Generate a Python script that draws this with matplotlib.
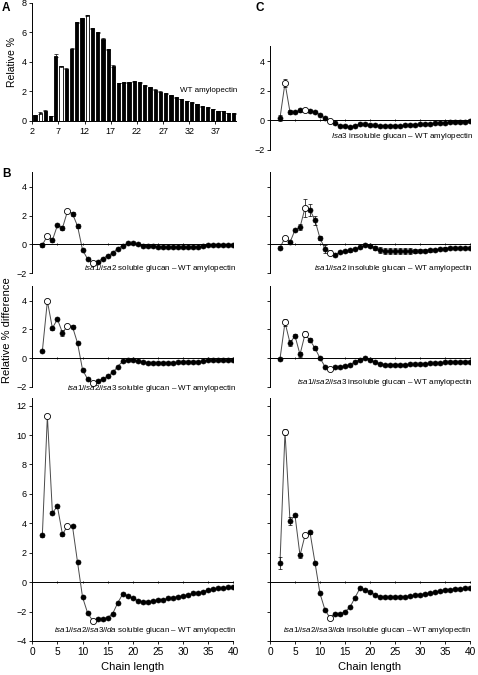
import numpy as np
import matplotlib.pyplot as plt

plt.rcParams['font.family'] = ['Liberation Sans', 'DejaVu Sans']
plt.rcParams['mathtext.fontset'] = 'custom'
plt.rcParams['mathtext.rm'] = 'Liberation Sans'
plt.rcParams['mathtext.it'] = 'Liberation Sans:italic'

W, H = 478, 675

# chain lengths (DP 2..40)
dp = np.arange(2, 41)
open_dp = [3, 7, 12]

# A: WT amylopectin, relative %
wt = [0.38, 0.54, 0.70, 0.34, 4.41, 3.69, 3.54, 4.89, 6.67, 6.94, 7.14, 6.28, 5.99,
      5.54, 4.84, 3.72, 2.57, 2.63, 2.63, 2.70, 2.63, 2.43, 2.27, 2.12, 1.98, 1.87,
      1.73, 1.60, 1.49, 1.35, 1.26, 1.15, 1.01, 0.92, 0.81, 0.68, 0.68, 0.54, 0.52]
wt_err = [0.03, 0.05, 0.05, 0.03, 0.10, 0.06, 0.04, 0.04, 0.04, 0.05, 0.06, 0.04, 0.04,
          0.04, 0.04, 0.04, 0.03, 0.03, 0.03, 0.03, 0.03, 0.03, 0.03, 0.03, 0.03, 0.03,
          0.03, 0.03, 0.03, 0.03, 0.03, 0.03, 0.03, 0.03, 0.03, 0.03, 0.03, 0.03, 0.03]

# B: soluble glucan - WT amylopectin
isa12_sol = [-0.05, 0.60, 0.28, 1.32, 1.13, 2.29, 2.12, 1.27, -0.39, -1.02, -1.29, -1.22,
             -0.99, -0.79, -0.60, -0.30, -0.09, 0.07, 0.07, 0.00, -0.10, -0.14, -0.14,
             -0.16, -0.20, -0.20, -0.20, -0.20, -0.20, -0.20, -0.20, -0.16, -0.12, -0.07,
             -0.05, -0.05, -0.07, -0.07, -0.07]
isa12_sol_err = [0.15, 0.10, 0.12, 0.08, 0.15, 0.08, 0.15, 0.15, 0.08, 0.05, 0.05, 0.05,
                 0.05, 0.05, 0.05, 0.05, 0.05, 0.05, 0.05, 0.05, 0.05, 0.05, 0.05, 0.05,
                 0.05, 0.05, 0.05, 0.05, 0.05, 0.05, 0.05, 0.05, 0.05, 0.05, 0.05, 0.05,
                 0.05, 0.05, 0.05]
isa123_sol = [0.49, 3.98, 2.09, 2.72, 1.77, 2.23, 2.19, 1.05, -0.81, -1.47, -1.77, -1.60,
              -1.47, -1.26, -1.00, -0.60, -0.21, -0.12, -0.12, -0.21, -0.28, -0.33, -0.33,
              -0.33, -0.33, -0.33, -0.33, -0.30, -0.28, -0.28, -0.28, -0.26, -0.21, -0.16,
              -0.16, -0.16, -0.16, -0.16, -0.16]
isa123_sol_err = [0.10, 0.15, 0.10, 0.08, 0.20, 0.08, 0.10, 0.08, 0.08, 0.05, 0.05, 0.05,
                  0.05, 0.05, 0.05, 0.05, 0.05, 0.05, 0.05, 0.05, 0.05, 0.05, 0.05, 0.05,
                  0.05, 0.05, 0.05, 0.05, 0.05, 0.05, 0.05, 0.05, 0.05, 0.05, 0.05, 0.05,
                  0.05, 0.05, 0.05]
lda_sol = [3.20, 11.30, 4.72, 5.15, 3.25, 3.82, 3.80, 1.36, -1.02, -2.09, -2.61, -2.48,
           -2.50, -2.41, -2.14, -1.41, -0.80, -0.93, -1.09, -1.25, -1.34, -1.34, -1.27,
           -1.20, -1.18, -1.11, -1.05, -0.98, -0.93, -0.86, -0.77, -0.73, -0.64, -0.52,
           -0.45, -0.43, -0.39, -0.36, -0.34]
lda_sol_err = [0.10, 0.10, 0.10, 0.10, 0.10, 0.08, 0.08, 0.08, 0.05, 0.05, 0.05, 0.05,
               0.05, 0.05, 0.05, 0.05, 0.05, 0.05, 0.05, 0.05, 0.05, 0.05, 0.05, 0.05,
               0.05, 0.05, 0.05, 0.05, 0.05, 0.05, 0.05, 0.05, 0.05, 0.05, 0.05, 0.05,
               0.05, 0.05, 0.05]

# C: insoluble glucan - WT amylopectin
isa3_ins = [0.16, 2.52, 0.56, 0.56, 0.67, 0.67, 0.63, 0.56, 0.38, 0.13, -0.04, -0.20,
            -0.36, -0.40, -0.45, -0.36, -0.25, -0.27, -0.31, -0.34, -0.36, -0.36, -0.36,
            -0.36, -0.36, -0.34, -0.31, -0.29, -0.27, -0.25, -0.22, -0.20, -0.18, -0.16,
            -0.13, -0.11, -0.11, -0.09, -0.04]
isa3_ins_err = [0.20, 0.25, 0.15, 0.10, 0.12, 0.05, 0.05, 0.05, 0.05, 0.05, 0.05, 0.05,
                0.05, 0.05, 0.05, 0.05, 0.05, 0.05, 0.05, 0.05, 0.05, 0.05, 0.05, 0.05,
                0.05, 0.05, 0.05, 0.05, 0.05, 0.05, 0.05, 0.05, 0.05, 0.05, 0.05, 0.05,
                0.05, 0.05, 0.05]
isa12_ins = [-0.23, 0.46, 0.14, 0.99, 1.18, 2.52, 2.40, 1.66, 0.42, -0.32, -0.58, -0.72,
             -0.55, -0.48, -0.42, -0.32, -0.21, -0.07, -0.12, -0.25, -0.37, -0.46, -0.48,
             -0.48, -0.48, -0.48, -0.48, -0.48, -0.46, -0.44, -0.42, -0.39, -0.35, -0.30,
             -0.28, -0.28, -0.28, -0.28, -0.28]
isa12_ins_err = [0.08, 0.08, 0.08, 0.10, 0.20, 0.60, 0.40, 0.30, 0.15, 0.30, 0.15, 0.08,
                 0.08, 0.08, 0.08, 0.08, 0.08, 0.08, 0.10, 0.15, 0.20, 0.20, 0.20, 0.20,
                 0.20, 0.20, 0.20, 0.15, 0.10, 0.10, 0.10, 0.08, 0.08, 0.08, 0.08, 0.08,
                 0.08, 0.08, 0.08]
isa123_ins = [-0.05, 2.49, 1.06, 1.55, 0.25, 1.66, 1.25, 0.69, 0.00, -0.60, -0.74, -0.65,
              -0.60, -0.55, -0.48, -0.25, -0.12, -0.02, -0.12, -0.30, -0.39, -0.46, -0.46,
              -0.46, -0.46, -0.46, -0.44, -0.44, -0.44, -0.39, -0.37, -0.35, -0.32, -0.30,
              -0.28, -0.28, -0.28, -0.28, -0.28]
isa123_ins_err = [0.08, 0.25, 0.20, 0.10, 0.15, 0.20, 0.15, 0.12, 0.08, 0.08, 0.05, 0.05,
                  0.05, 0.05, 0.05, 0.05, 0.05, 0.05, 0.05, 0.05, 0.08, 0.08, 0.08, 0.08,
                  0.08, 0.08, 0.05, 0.05, 0.05, 0.05, 0.05, 0.05, 0.05, 0.05, 0.05, 0.05,
                  0.05, 0.05, 0.05]
lda_ins = [1.32, 10.23, 4.16, 4.54, 1.82, 3.18, 3.39, 1.32, -0.77, -1.89, -2.43, -2.14,
           -2.18, -2.00, -1.70, -1.05, -0.41, -0.50, -0.66, -0.86, -0.98, -1.02, -1.02,
           -1.00, -0.98, -0.98, -0.93, -0.89, -0.84, -0.80, -0.73, -0.68, -0.61, -0.52,
           -0.50, -0.45, -0.45, -0.43, -0.43]
lda_ins_err = [0.40, 0.20, 0.30, 0.10, 0.15, 0.10, 0.10, 0.08, 0.05, 0.05, 0.05, 0.05,
               0.05, 0.05, 0.05, 0.05, 0.05, 0.05, 0.05, 0.05, 0.05, 0.05, 0.05, 0.05,
               0.05, 0.05, 0.05, 0.05, 0.05, 0.05, 0.05, 0.05, 0.05, 0.05, 0.05, 0.05,
               0.05, 0.05, 0.05]

TICK_FS = 6.5
NOTE_FS = 5.8


def rect(l, t, r, b):
    return [l / W, 1 - b / H, (r - l) / W, (b - t) / H]


fig = plt.figure(figsize=(W / 100, H / 100), dpi=100)

# ---- panel A: bars
axA = fig.add_axes(rect(32.3, 2.7, 236.3, 121))
faces = ['white' if d in open_dp else 'black' for d in dp]
axA.bar(dp + 0.5, wt, width=0.62, color=faces, edgecolor='black', linewidth=0.6,
        yerr=wt_err, error_kw=dict(ecolor='black', elinewidth=0.5, capsize=1.2, capthick=0.5))
axA.set_xlim(2, 41)
axA.set_ylim(0, 8)
axA.set_xticks(np.arange(2, 41, 5))
axA.set_yticks([0, 2, 4, 6, 8])
axA.spines[['top', 'right']].set_visible(False)
for s in ['left', 'bottom']:
    axA.spines[s].set_linewidth(0.7)
axA.tick_params(labelsize=TICK_FS, length=2, width=0.6, pad=2)
axA.set_ylabel('Relative %', fontsize=7.5, labelpad=3)


def diff_panel(rc, y, err, ylim, yticks, show_ylabels, bottom):
    ax = fig.add_axes(rect(*rc))
    y = np.asarray(y)
    ax.plot(dp, y, color='#4a4a4a', linewidth=0.7, zorder=2)
    ax.errorbar(dp, y, yerr=err, fmt='none', ecolor='black', elinewidth=0.5,
                capsize=1.2, capthick=0.5, zorder=3)
    is_open = np.isin(dp, open_dp)
    ax.plot(dp[~is_open], y[~is_open], 'o', ms=3.6, mfc='black', mec='black', mew=0.5, zorder=4)
    ax.plot(dp[is_open], y[is_open], 'o', ms=4.4, mfc='white', mec='black', mew=0.6, zorder=5)
    ax.set_xlim(0, 40)
    ax.set_ylim(*ylim)
    ax.set_yticks(yticks)
    ax.spines[['top', 'right']].set_visible(False)
    ax.spines['left'].set_linewidth(0.7)
    ax.spines['bottom'].set_linewidth(0.7)
    ax.tick_params(axis='y', labelsize=TICK_FS, length=2, width=0.6, pad=2,
                   labelleft=show_ylabels)
    ax.set_xticks(np.arange(0, 41, 5))
    if bottom:
        ax.tick_params(axis='x', labelsize=TICK_FS + 0.8, length=2, width=0.6, pad=2)
        frac = (0 - ylim[0]) / (ylim[1] - ylim[0])
        zero = ax.secondary_xaxis(frac)
        zero.set_xticks(np.arange(0, 41, 5))
        zero.tick_params(labelbottom=False, labeltop=False, length=2, width=0.6,
                         direction='inout')
        zero.spines['bottom'].set_linewidth(0.7)
        ax.set_xlabel('Chain length', fontsize=8, labelpad=4)
    else:
        ax.spines['bottom'].set_position(('data', 0))
        ax.tick_params(axis='x', labelbottom=False, length=2, width=0.6, direction='inout')
    return ax


diff_panel((270, 46.3, 470, 149.9), isa3_ins, isa3_ins_err, (-2, 5), [-2, 0, 2, 4], True, False)
diff_panel((32.3, 172.3, 233.3, 273.1), isa12_sol, isa12_sol_err, (-2, 5), [-2, 0, 2, 4], True, False)
diff_panel((270, 172.3, 470, 273.1), isa12_ins, isa12_ins_err, (-2, 5), [-2, 0, 2, 4], False, False)
diff_panel((32.3, 286.5, 233.3, 386.7), isa123_sol, isa123_sol_err, (-2, 5), [-2, 0, 2, 4], True, False)
diff_panel((270, 286.5, 470, 386.7), isa123_ins, isa123_ins_err, (-2, 5), [-2, 0, 2, 4], False, False)
diff_panel((32.3, 398.3, 233.3, 641), lda_sol, lda_sol_err, (-4, 12.5), np.arange(-4, 13, 2), True, True)
diff_panel((270, 398.3, 470, 641), lda_ins, lda_ins_err, (-4, 12.5), np.arange(-4, 13, 2), False, True)

# annotations
notes = [
    (237, 90, 'WT amylopectin'),
    (473, 137, r'$\mathit{Isa3}$ insoluble glucan – WT amylopectin'),
    (237, 269, r'$\mathit{isa1/isa2}$ soluble glucan – WT amylopectin'),
    (473, 269, r'$\mathit{isa1/isa2}$ insoluble glucan – WT amylopectin'),
    (237, 389, r'$\mathit{isa1/isa2/isa3}$ soluble glucan – WT amylopectin'),
    (473, 383, r'$\mathit{isa1/isa2/isa3}$ insoluble glucan – WT amylopectin'),
    (236, 630, r'$\mathit{isa1/isa2/isa3/lda}$ soluble glucan – WT amylopectin'),
    (472, 630, r'$\mathit{isa1/isa2/isa3/lda}$ insoluble glucan – WT amylopectin'),
]
for x, y, s in notes:
    fig.text(x / W, 1 - y / H, s, fontsize=NOTE_FS, ha='right', va='center')

fig.text(7 / W, 1 - 330 / H, 'Relative % difference', fontsize=8, rotation=90,
         ha='center', va='center')

for x, y, s in [(2, 8, 'A'), (2, 174, 'B'), (256, 8, 'C')]:
    fig.text(x / W, 1 - y / H, s, fontsize=8.5, fontweight='bold', ha='left', va='center')

fig.savefig('out.png', dpi=100)
